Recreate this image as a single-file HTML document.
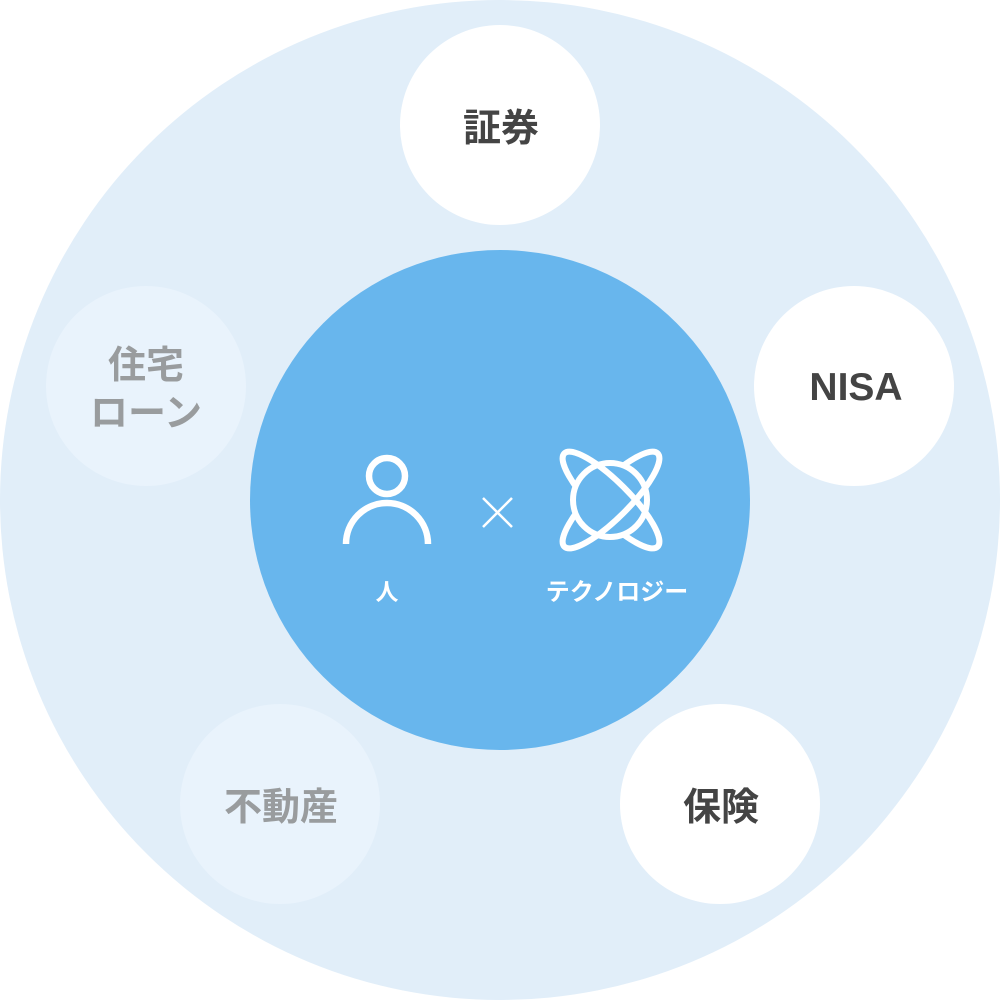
<!DOCTYPE html>
<html><head><meta charset="utf-8"><style>
html,body{margin:0;padding:0;background:#fff;width:1000px;height:1000px;overflow:hidden}
svg{display:block}
text{font-family:"Liberation Sans","Noto Sans CJK JP",sans-serif;font-weight:bold;text-anchor:middle}
</style></head><body>
<svg width="1000" height="1000" viewBox="0 0 1000 1000">
<defs>
<mask id="out"><rect width="1000" height="1000" fill="#fff"/><circle cx="610" cy="500" r="36" fill="#000"/></mask>
<clipPath id="in"><circle cx="610" cy="500" r="36"/></clipPath>
</defs>
<circle cx="500" cy="500" r="500" fill="#e1eef9"/>
<circle cx="500" cy="500" r="250" fill="#68b6ed"/>
<circle cx="500" cy="125" r="100" fill="#fff"/>
<circle cx="854" cy="386" r="100" fill="#fff"/>
<circle cx="720" cy="804" r="100" fill="#fff"/>
<circle cx="280" cy="804" r="100" fill="#e9f3fc"/>
<circle cx="146" cy="386" r="100" fill="#e9f3fc"/>
<text x="501" y="141" font-size="38" fill="#444">証券</text>
<text x="856" y="400" font-size="39" fill="#444">NISA</text>
<text x="721" y="820" font-size="38" fill="#444">保険</text>
<text x="281" y="820" font-size="38" fill="#999c9e">不動産</text>
<text x="146" y="378" font-size="38" fill="#999c9e">住宅</text>
<text x="146" y="426" font-size="38" fill="#999c9e">ローン</text>
<g fill="none" stroke="#fff" stroke-width="6.5">
<circle cx="387" cy="476" r="18"/>
<path d="M346 544 A41 41 0 0 1 428 544"/>
</g>
<g fill="none" stroke="#fff" stroke-width="6">
<circle cx="610" cy="500" r="37"/>
<g mask="url(#out)">
<ellipse cx="0" cy="0" rx="66" ry="18" transform="translate(611 500) rotate(45)"/>
<ellipse cx="0" cy="0" rx="66" ry="18" transform="translate(611 500) rotate(-45)"/>
</g>
<g clip-path="url(#in)">
<path d="M-66 0 A66 18 0 0 1 66 0" transform="translate(611 500) rotate(45)"/>
<path d="M-66 0 A66 18 0 0 0 66 0" transform="translate(611 500) rotate(-45)"/>
</g>
</g>
<path d="M483 498 L512 527 M512 498 L483 527" stroke="#fff" stroke-width="2.5"/>
<text x="387" y="600" font-size="23" fill="#fff">人</text>
<text x="617" y="600" font-size="24" fill="#fff">テクノロジー</text>
</svg>
</body></html>
